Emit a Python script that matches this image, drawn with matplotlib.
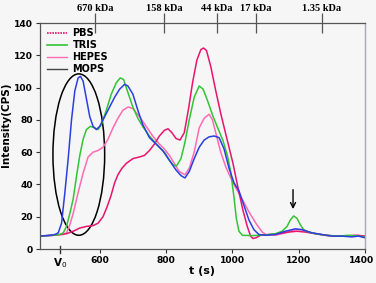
import matplotlib
matplotlib.use("Agg")
import matplotlib.pyplot as plt
import matplotlib.transforms as mtransforms
from matplotlib.patches import Ellipse
from matplotlib.lines import Line2D

# ---- data ----
pbs_t = [420, 460, 500, 520, 540, 560, 580, 595, 610, 622, 634, 645, 655, 667, 680, 700, 720, 735, 750,
         765, 780, 795, 806, 818, 830, 842, 855, 868, 880, 893, 905, 913, 922, 935, 950, 965, 978, 990,
         1002, 1017, 1032, 1045, 1055, 1062, 1072, 1085, 1110, 1140, 1170, 1195, 1220, 1250, 1280,
         1310, 1340, 1370, 1400]
pbs_v = [8, 8.5, 9.5, 11, 13, 14, 14.5, 16, 20, 26, 33, 41, 46, 50, 53, 56, 57, 58, 61,
         65, 70, 73.5, 74.5, 72, 68.5, 67.5, 72, 87, 103, 117, 123.5, 124.5, 123, 113, 98, 84, 73, 63,
         53, 38, 24, 14, 8, 6.5, 7, 8.5, 9, 9.5, 10.5, 11, 10.5, 9.5, 8.5,
         8, 8, 8.5, 8]

tris_t = [420, 460, 480, 490, 500, 510, 520, 530, 540, 550, 560, 572, 585, 595, 605, 620, 635, 650, 662,
          672, 685, 700, 715, 731, 750, 765, 780, 797, 810, 822, 832, 845, 857, 870, 885, 900, 912,
          925, 942, 958, 972, 985, 995, 1005, 1012, 1020, 1030, 1060, 1100, 1130, 1150, 1165, 1175,
          1185, 1195, 1205, 1215, 1230, 1250, 1280, 1320, 1350, 1380, 1400]
tris_v = [8, 8.5, 9, 10, 14, 22, 31, 45, 58, 68, 74, 76, 75, 74, 77, 86, 96, 103, 106,
          105, 97, 88, 81, 75.5, 70, 66.5, 63, 59.5, 55, 52, 51.5, 56, 66, 80, 94, 101, 99,
          92, 82, 74, 67, 58, 48, 32, 19, 11, 8.5, 8.3, 8.7, 9.5, 11, 14, 18,
          20.5, 19, 15, 12, 10.5, 9.5, 8.5, 8, 8.5, 8, 7.5]

hepes_t = [420, 460, 490, 500, 510, 520, 535, 550, 565, 580, 595, 610, 625, 640, 655, 670, 686, 700,
           720, 740, 760, 780, 795, 810, 825, 840, 857, 870, 885, 900, 915, 930, 940, 955, 965, 980,
           993, 1010, 1032, 1050, 1074, 1090, 1104, 1130, 1160, 1190, 1210, 1240, 1280, 1320, 1360,
           1380, 1400]
hepes_v = [8, 8.5, 9, 10, 15, 22, 35, 47, 57, 60, 61, 63, 68, 75, 81, 86, 88, 87,
           82, 76, 70, 65, 62, 58, 53, 48, 46, 50, 60, 75, 81, 83.5, 80, 68, 60, 51,
           45, 38, 30, 23, 15, 10.5, 8.7, 8.5, 10, 12, 12, 10, 8.5, 8, 8,
           8.5, 8]

mops_t = [420, 450, 465, 475, 485, 495, 505, 515, 525, 535, 542, 550, 560, 570, 580, 590, 600, 615,
          630, 645, 660, 675, 685, 700, 715, 730, 750, 770, 790, 810, 830, 845, 857, 870, 885, 900,
          915, 930, 945, 960, 975, 990, 1005, 1020, 1035, 1050, 1065, 1080, 1100, 1130, 1160, 1190,
          1210, 1240, 1270, 1300, 1330, 1360, 1380, 1400]
mops_v = [8, 8.5, 9, 10, 16, 35, 56, 80, 98, 106, 107, 104, 93, 82, 76, 74, 76, 82,
          88, 94, 99, 102, 101, 96, 86, 77, 69, 65, 61, 55, 49, 45.5, 44, 48, 56, 63,
          67.5, 69.5, 70, 69, 62, 50, 41, 36, 27, 18, 12, 9, 8.5, 9, 11, 12.5,
          12, 10, 9, 8, 8, 7.5, 8, 7]

kda_labels = ["670 kDa", "158 kDa", "44 kDa", "17 kDa", "1.35 kDa"]
kda_pos = [586, 794, 954, 1071, 1270]
xticks = [600, 800, 1000, 1200, 1400]
yticks = [0, 20, 40, 60, 80, 100, 120, 140]
v0_t = 480
arrow_t = 1183

# ---- style ----
bg = "#f6f6f6"
c_pbs = "#e8146e"
c_tris = "#33c433"
c_hepes = "#ff6ab4"
c_mops = "#2a3fe0"

fig = plt.figure(figsize=(3.76, 2.83), dpi=100, facecolor=bg)
ax = fig.add_axes([0.1064, 0.1201, 0.8643, 0.7986], facecolor=bg)

lw = 1.1
ax.plot(hepes_t, hepes_v, color=c_hepes, lw=lw)
ax.plot(pbs_t, pbs_v, color=c_pbs, lw=lw)
ax.plot(tris_t, tris_v, color=c_tris, lw=lw)
ax.plot(mops_t, mops_v, color=c_mops, lw=lw)

ax.add_patch(Ellipse((537, 58.5), 156, 100, fill=False, edgecolor="black", lw=1.1))

ax.annotate("", xy=(arrow_t, 23), xytext=(arrow_t, 38.5),
            arrowprops=dict(arrowstyle="->", color="black", lw=1.0, mutation_scale=9))

ax.set_xlim(420, 1400)
ax.set_ylim(0, 140)
ax.set_xticks(xticks)
ax.set_yticks(yticks)
ax.tick_params(axis="both", direction="out", length=3, width=0.8, labelsize=6.6, colors="#333333",
               pad=2)
for lab in ax.get_xticklabels() + ax.get_yticklabels():
    lab.set_fontweight("bold")
    lab.set_color("black")
# nudge the last x tick label so it stays inside the figure
last = ax.get_xticklabels()[-1]
last.set_transform(last.get_transform() +
                   mtransforms.ScaledTranslation(-3 / 100, 0, fig.dpi_scale_trans))

for s in ["left", "bottom"]:
    ax.spines[s].set_color("#555555")
    ax.spines[s].set_linewidth(0.9)
ax.spines["right"].set_color("#a8a8b8")
ax.spines["right"].set_linewidth(1.0)
ax.spines["top"].set_color("#555555")
ax.spines["top"].set_linewidth(0.9)

# V0 marker
ax.plot([v0_t, v0_t], [-2.5, 2], color="#333333", lw=1.0, clip_on=False)
ax.text(v0_t, -4.2, r"V$_0$", ha="center", va="top", fontsize=7.5, fontweight="bold")

ax.set_xlabel("t (s)", fontsize=8, fontweight="bold", labelpad=1)
ax.set_ylabel("Intensity(CPS)", fontsize=7.5, fontweight="bold")
ax.yaxis.set_label_coords(-0.088, 0.55)

# top molecular weight axis
ax2 = ax.twiny()
ax2.set_xlim(ax.get_xlim())
ax2.set_xticks(kda_pos)
ax2.set_xticklabels(kda_labels, family="Liberation Serif", fontweight="bold", fontsize=7.5)
ax2.tick_params(axis="x", direction="inout", length=14, width=0.9, colors="#555555", pad=0)
for lab in ax2.get_xticklabels():
    lab.set_color("black")
for s in ax2.spines.values():
    s.set_visible(False)

handles = [Line2D([], [], color=c_pbs, lw=1.2, ls=(0, (1, 0.6))),
           Line2D([], [], color=c_tris, lw=1.2),
           Line2D([], [], color=c_hepes, lw=1.0),
           Line2D([], [], color="#444444", lw=1.0)]
leg = ax.legend(handles, ["PBS", "TRIS", "HEPES", "MOPS"], loc="upper left",
                bbox_to_anchor=(0.01, 0.995), frameon=False, fontsize=7,
                handlelength=2.0, handletextpad=0.6, labelspacing=0.22, borderaxespad=0)
for t in leg.get_texts():
    t.set_fontweight("bold")

fig.savefig("out.png", dpi=100, facecolor=bg)
